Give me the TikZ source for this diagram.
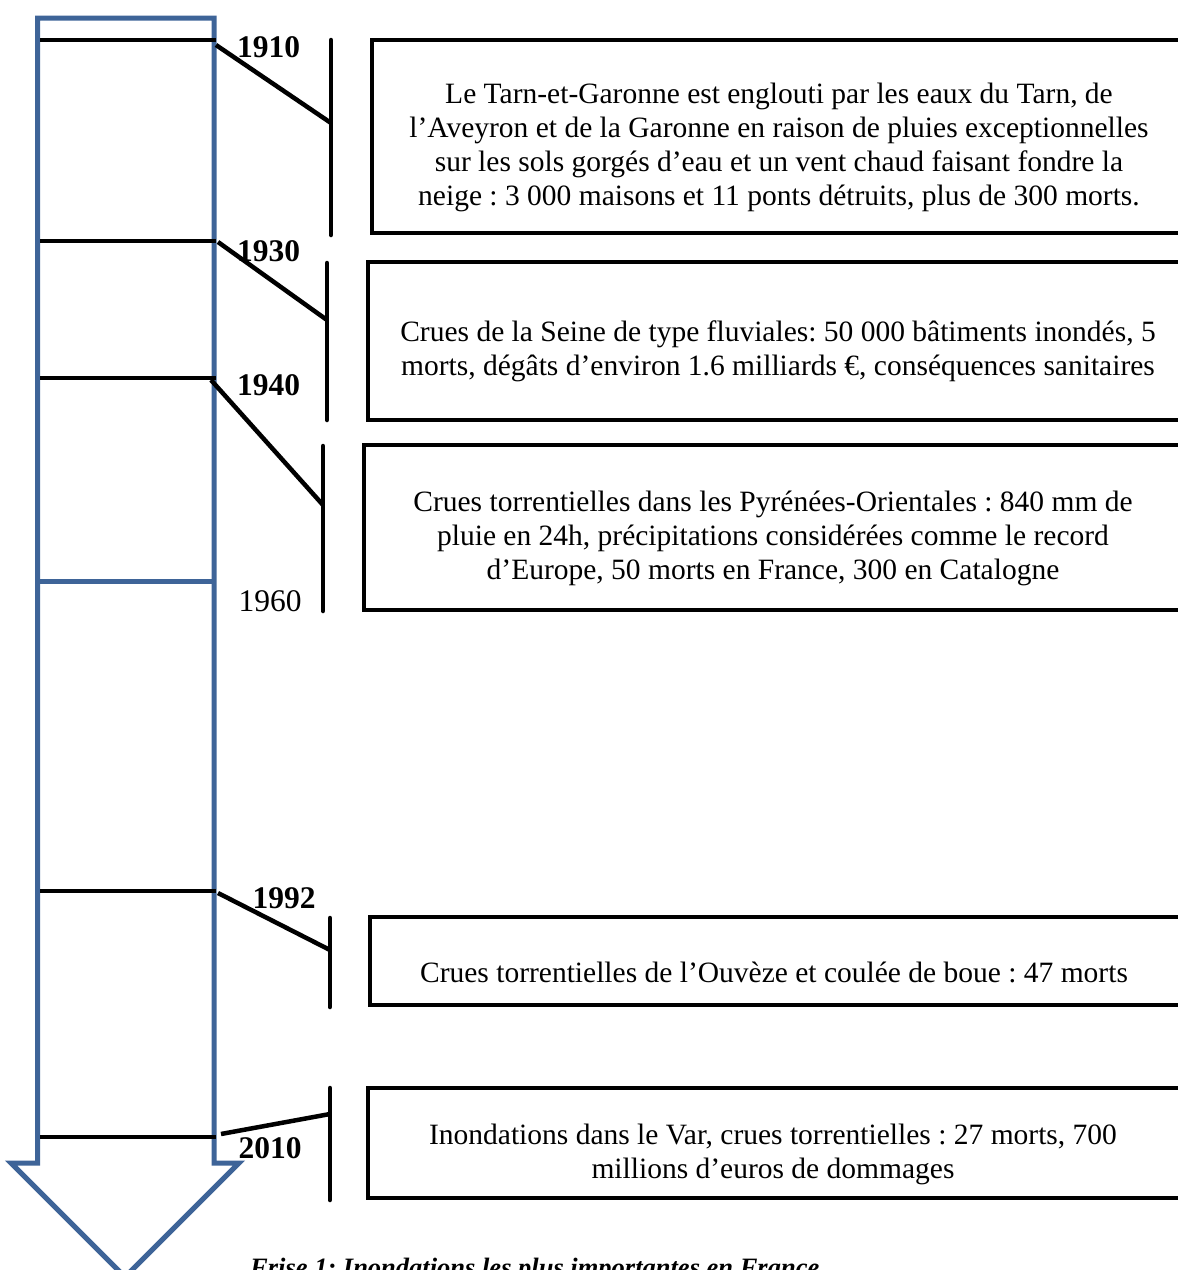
\documentclass[tikz,border=0pt]{standalone}
\usepackage{fontspec}
\setmainfont{Liberation Serif}
\definecolor{frisebleu}{RGB}{62,100,152}
\tikzset{
  x=1pt, y=-1pt,
  tick/.style={line width=4.5pt, black},
  link/.style={line width=4.5pt, black, line cap=butt},
  bar/.style={line width=4.5pt, black, line cap=round},
  evbox/.style={draw=black, line width=4.5pt, anchor=north west, inner sep=0pt, outer sep=0pt},
  evtext/.style={align=center, font=\fontsize{29.5}{34}\selectfont, inner sep=0pt},
  yearb/.style={font=\fontsize{31.5}{34}\selectfont\bfseries, inner sep=0pt},
  yearr/.style={font=\fontsize{31.5}{34}\selectfont, inner sep=0pt},
}
\begin{document}
\frenchspacing
\begin{tikzpicture}
\useasboundingbox (0,0) rectangle (1178,1270);
\clip (0,0) rectangle (1178,1270);

% timeline arrow
\draw[frisebleu, line width=5pt, line join=miter]
  (37.5,18) -- (214,18) -- (214,1163) -- (239,1163) -- (125,1277)
  -- (11,1163) -- (37.5,1163) -- cycle;
\draw[frisebleu, line width=5pt] (37.5,581) -- (214,581);

% tick marks on the arrow
\foreach \n/\y in {a/40, b/241, c/378, d/891, e/1137} {
  \coordinate (L\n) at (40,\y);
  \coordinate (R\n) at (216,\y);
  \draw[tick] (L\n) -- (R\n);
}

% year labels
\node[yearb] (y1910) at (268.5,47) {1910};
\node[yearb] (y1930) at (268.5,251) {1930};
\node[yearb] (y1940) at (268.5,385) {1940};
\node[yearr] (y1960) at (270,601) {1960};
\node[yearb] (y1992) at (284,898) {1992};
\node[yearb] (y2010) at (270,1148) {2010};

% vertical brackets
\coordinate (ta) at (331,40);   \coordinate (ba) at (331,235);  \coordinate (ma) at (331,123);
\coordinate (tb) at (327,263);  \coordinate (bb) at (327,420);  \coordinate (mb) at (327,320);
\coordinate (tc) at (323,446);  \coordinate (bc) at (323,611);  \coordinate (mc) at (323,505);
\coordinate (td) at (330,918);  \coordinate (bd) at (330,1007); \coordinate (md) at (330,950);
\coordinate (te) at (330,1088); \coordinate (be) at (330,1200); \coordinate (me) at (330,1114);
\foreach \n in {a,b,c,d,e} { \draw[bar] (t\n) -- (b\n); }

% connectors from the arrow to the brackets
\coordinate (sa) at (216,45);
\coordinate (sb) at (218,242);
\coordinate (sc) at (211,380);
\coordinate (sd) at (218,893);
\coordinate (se) at (221,1134);
\foreach \n in {a,b,c,d,e} { \draw[link] (s\n) -- (m\n); }

% event boxes (open on the right, running off the page)
\node[evbox, minimum width=850, minimum height=193] (b1) at (372,40) {};
\node[evbox, minimum width=850, minimum height=158] (b2) at (368,262) {};
\node[evbox, minimum width=850, minimum height=165] (b3) at (364,445) {};
\node[evbox, minimum width=850, minimum height=88]  (b4) at (370,917) {};
\node[evbox, minimum width=850, minimum height=110] (b5) at (368,1088) {};

\node[evtext] (t1) at (779,147) {Le Tarn-et-Garonne est englouti par les eaux du Tarn, de\\
l’Aveyron et de la Garonne en raison de pluies exceptionnelles\\
sur les sols gorgés d’eau et un vent chaud faisant fondre la\\
neige : 3 000 maisons et 11 ponts détruits, plus de 300 morts.};
\node[evtext] (t2) at (778,351) {Crues de la Seine de type fluviales: 50 000 bâtiments inondés, 5\\
morts, dégâts d’environ 1.6 milliards €, conséquences sanitaires};
\node[evtext] (t3) at (773,538) {Crues torrentielles dans les Pyrénées-Orientales : 840 mm de\\
pluie en 24h, précipitations considérées comme le record\\
d’Europe, 50 morts en France, 300 en Catalogne};
\node[evtext] (t4) at (774,972) {Crues torrentielles de l’Ouvèze et coulée de boue : 47 morts};
\node[evtext] (t5) at (773,1154) {Inondations dans le Var, crues torrentielles : 27 morts, 700\\
millions d’euros de dommages};

% caption
\node[anchor=base west, inner sep=0pt, font=\fontsize{26.5}{30}\selectfont\bfseries\itshape]
  (cap) at (250,1276) {Frise 1: Inondations les plus importantes en France};
\end{tikzpicture}
\end{document}
